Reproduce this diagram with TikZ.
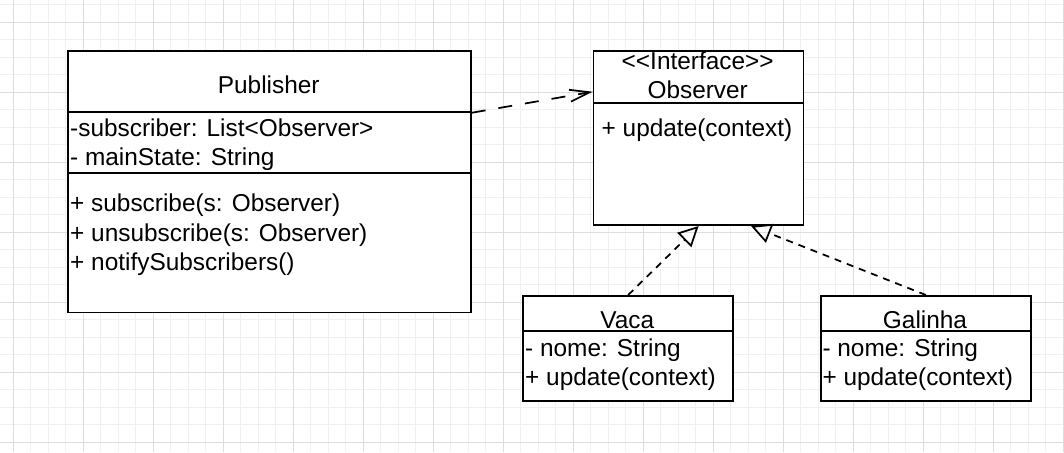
\documentclass[tikz,border=0pt]{standalone}
\usepackage{fontspec}
\setmainfont{Liberation Sans}
\usetikzlibrary{arrows.meta,calc}
\begin{document}
\begin{tikzpicture}[x=1pt,y=-1pt,
  box/.style={draw=black, line width=1.75pt, fill=white, rectangle, inner sep=0pt, anchor=north west},
  txt/.style={inner sep=0pt, font=\fontsize{24.4}{28}\selectfont},
  lt/.style={txt, anchor=base west},
  ct/.style={txt, anchor=base},
  dep/.style={line width=1.75pt, dash pattern=on 14pt off 13pt, -{Straight Barb[length=20pt,width=12pt]}},
  real/.style={line width=1.75pt, dash pattern=on 7pt off 6pt, -{Triangle[open,length=20pt,width=20pt]}},
  gmin/.style={black!6, line width=1pt},
  gmaj/.style={black!13, line width=1pt}]
\useasboundingbox (0,0) rectangle (1064,452);
\fill[white] (0,0) rectangle (1064,452);
% grid
\foreach \i in {-1,...,60} {\pgfmathsetmacro\xx{13.3+17.5*\i}\draw[gmin] (\xx,0) -- (\xx,452);}
\foreach \i in {-2,...,25} {\pgfmathsetmacro\yy{22.3+17.5*\i}\draw[gmin] (0,\yy) -- (1064,\yy);}
\foreach \i in {0,...,15} {\pgfmathsetmacro\xx{13.3+70*\i}\draw[gmaj] (\xx,0) -- (\xx,452);}
\foreach \i in {0,...,6} {\pgfmathsetmacro\yy{22.3+70*\i}\draw[gmaj] (0,\yy) -- (1064,\yy);}

% Publisher
\node[box, minimum width=402.7pt, minimum height=61pt] (pubhead) at (67.3,50) {};
\node[box, minimum width=402.7pt, minimum height=61.3pt] (pubattr) at (67.3,111) {};
\node[box, minimum width=402.7pt, minimum height=139.4pt] (pubmeth) at (67.3,172.3) {};
\node[ct] (pubname) at (268.7,93.3) {Publisher};
\node[lt] (pa1) at (70,136.7) {-subscriber: List\textless Observer\textgreater};
\node[lt] (pa2) at (70,165) {- mainState: String};
\node[lt] (pm1) at (70,211.7) {+ subscribe(s: Observer)};
\node[lt] (pm2) at (70,241) {+ unsubscribe(s: Observer)};
\node[lt] (pm3) at (70,270) {+ notifySubscribers()};

% Observer
\node[box, minimum width=210pt, minimum height=52.3pt] (obshead) at (592.7,50) {};
\node[box, minimum width=210pt, minimum height=122pt] (obsbody) at (592.7,102.3) {};
\node[ct] (obsst) at (697.7,69.3) {\textless\kern0pt\textless\kern0pt Interface\kern0pt\textgreater\kern0pt\textgreater};
\node[ct] (obsname) at (697.7,98.3) {Observer};
\node[lt] (obsm) at (601.5,136.7) {+ update(context)};

% Vaca
\node[box, minimum width=210pt, minimum height=35pt] (vacahead) at (522.3,295) {};
\node[box, minimum width=210pt, minimum height=70pt] (vacabody) at (522.3,330) {};
\node[ct] (vacaname) at (627.3,328.3) {Vaca};
\node[lt] (va1) at (525,356.7) {- nome: String};
\node[lt] (va2) at (525,385.7) {+ update(context)};

% Galinha
\node[box, minimum width=210pt, minimum height=35pt] (galhead) at (820,295) {};
\node[box, minimum width=210pt, minimum height=70pt] (galbody) at (820,330) {};
\node[ct] (galname) at (925,328.3) {Galinha};
\node[lt] (ga1) at (822.3,356.7) {- nome: String};
\node[lt] (ga2) at (822.3,385.7) {+ update(context)};

% connectors
\coordinate (obsin) at ($(obshead.south west)+(0,-12.3)$);
\coordinate (galin) at ($(obsbody.south)+(52.5,0)$);
\draw[dep] (pubhead.south east) -- (obsin);
\draw[real] (vacahead.north) -- (obsbody.south);
\draw[real] (galhead.north) -- (galin);
\end{tikzpicture}
\end{document}
